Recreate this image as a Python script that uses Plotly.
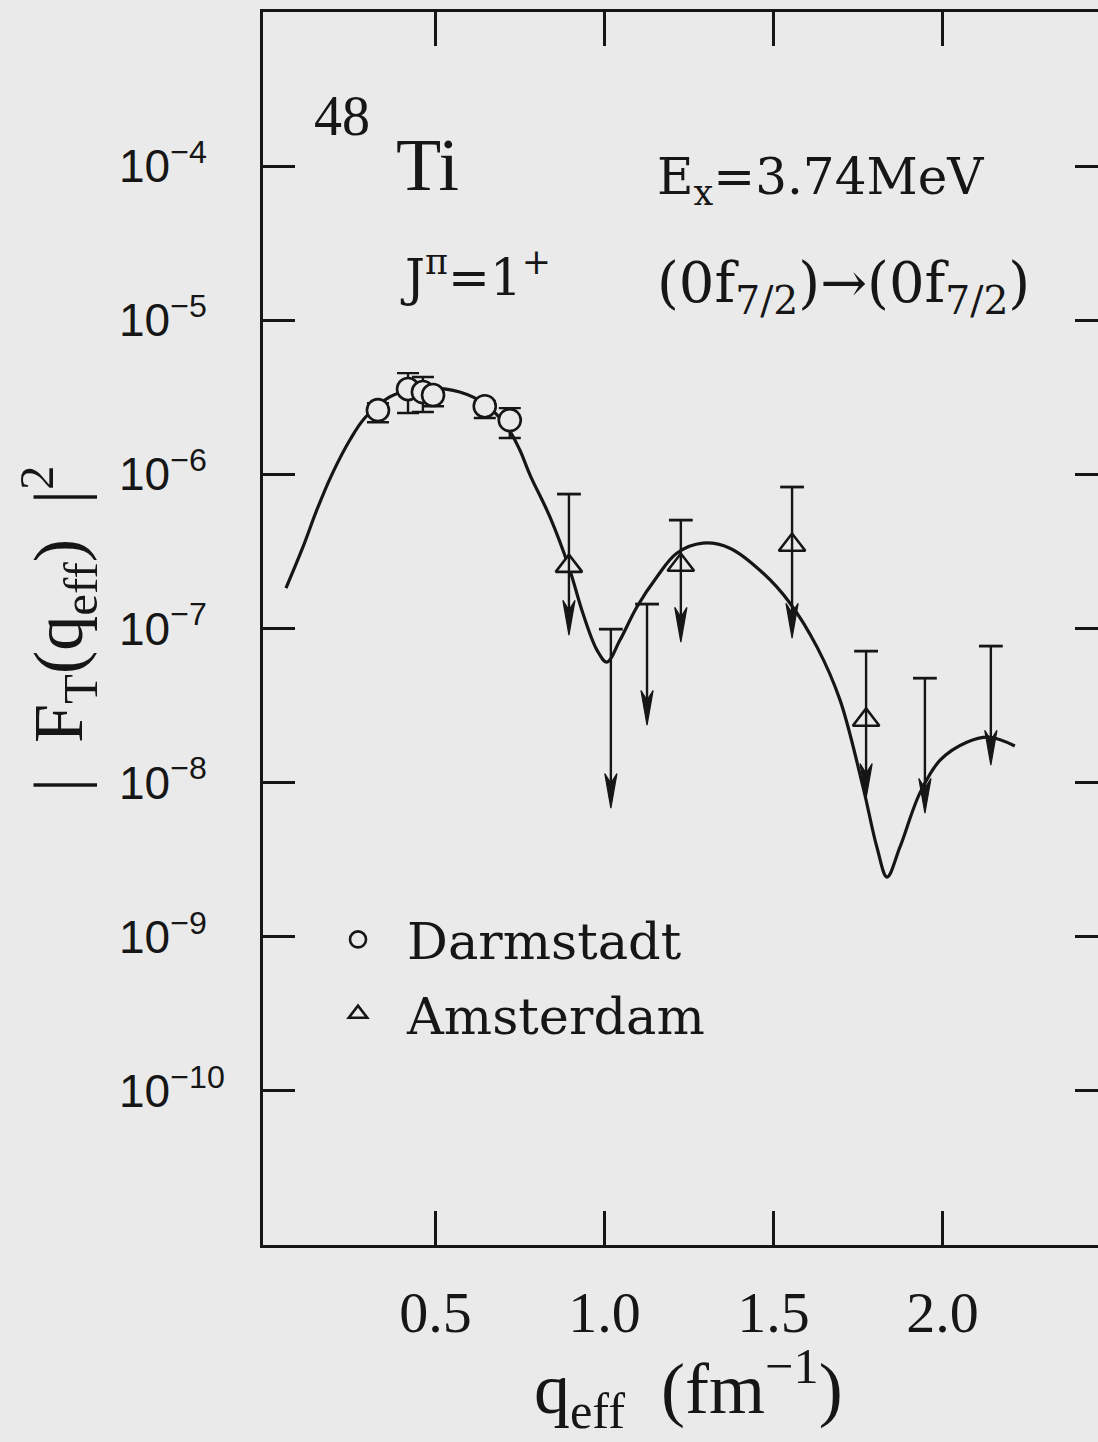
import plotly.graph_objects as go

BG = "#eaeaea"
INK = "#161616"

# Theory curve |F_T(q_eff)|^2 versus q_eff (fm^-1)
theory_q = [0.058, 0.108, 0.149, 0.194, 0.247, 0.291, 0.365, 0.419, 0.484, 0.572,
            0.646, 0.712, 0.749, 0.780, 0.839, 0.895, 0.936, 0.978, 1.007, 1.046,
            1.096, 1.155, 1.214, 1.291, 1.371, 1.469, 1.549, 1.629, 1.697, 1.765,
            1.806, 1.836, 1.874, 1.933, 1.993, 2.072, 2.140, 2.214]
theory_f2 = [1.83e-7, 3.37e-7, 5.86e-7, 1.00e-6, 1.67e-6, 2.32e-6, 3.18e-6, 3.50e-6, 3.63e-6, 3.42e-6,
             2.86e-6, 2.03e-6, 1.45e-6, 9.9e-7, 5.28e-7, 2.50e-7, 1.26e-7, 7.24e-8, 6.05e-8, 8.41e-8,
             1.38e-7, 2.16e-7, 3.08e-7, 3.58e-7, 3.32e-7, 2.29e-7, 1.46e-7, 7.57e-8, 3.43e-8, 9.35e-9,
             3.81e-9, 2.44e-9, 3.81e-9, 8.55e-9, 1.40e-8, 1.83e-8, 1.97e-8, 1.73e-8]

# Darmstadt data with error bars
darm_q = [0.330, 0.419, 0.463, 0.493, 0.646, 0.720]
darm_f2 = [2.61e-6, 3.58e-6, 3.42e-6, 3.27e-6, 2.77e-6, 2.25e-6]
darm_hi = [2.90e-6, 4.54e-6, 4.28e-6, 3.60e-6, 3.00e-6, 2.69e-6]
darm_lo = [2.18e-6, 2.50e-6, 2.54e-6, 2.77e-6, 2.32e-6, 1.72e-6]

# Amsterdam data: measured points carrying upper-limit arrows
ams_q = [0.895, 1.226, 1.555, 1.774]
ams_f2 = [2.54e-7, 2.58e-7, 3.48e-7, 2.55e-8]
ams_cap = [7.45e-7, 5.05e-7, 8.28e-7, 7.13e-8]
ams_tip = [9.06e-8, 8.16e-8, 8.67e-8, 7.92e-9]

# Upper limits without a plotted point
lim_q = [1.019, 1.126, 1.948, 2.143]
lim_cap = [9.9e-8, 1.44e-7, 4.76e-8, 7.69e-8]
lim_tip = [6.82e-9, 2.36e-8, 6.34e-9, 1.30e-8]

x_tick_vals = [0.5, 1.0, 1.5, 2.0]
x_tick_text = ["0.5", "1.0", "1.5", "2.0"]
y_tick_vals = [1e-10, 1e-9, 1e-8, 1e-7, 1e-6, 1e-5, 1e-4]
y_tick_exp = ["10", "9", "8", "7", "6", "5", "4"]

# pad one-digit exponents with a figure space so the "10" bases line up
y_tick_text = ["10<sup>\u2212%s</sup>" % e + ("" if len(e) > 1 else "<sup>\u2007</sup>")
               for e in y_tick_exp]

# arrow head geometry (head length in decades, half width in q units)
HEAD_DEC = 0.225
HEAD_HW = 0.018

arrow_q = ams_q + lim_q
arrow_cap = ams_cap + lim_cap
arrow_tip = ams_tip + lim_tip

stem_x, stem_y, head_x, head_y = [], [], [], []
for q, c, t in zip(arrow_q, arrow_cap, arrow_tip):
    stem_x += [q, q, None]
    stem_y += [c, t * 10 ** (0.6 * HEAD_DEC), None]
    back = t * 10 ** HEAD_DEC
    notch = t * 10 ** (0.72 * HEAD_DEC)
    head_x += [q, q - HEAD_HW, q, q + HEAD_HW, q, None]
    head_y += [t, back, notch, back, t, None]

fig = go.Figure()

fig.add_trace(go.Scatter(
    x=theory_q, y=theory_f2, mode="lines",
    line=dict(color=INK, width=3.2, shape="spline", smoothing=1.0),
    showlegend=False, hoverinfo="skip"))

# stems live on the right-hand twin axis (same scale) so its ticks are drawn
fig.add_trace(go.Scatter(
    x=stem_x, y=stem_y, mode="lines", line=dict(color=INK, width=2.4),
    yaxis="y2", showlegend=False, hoverinfo="skip"))

fig.add_trace(go.Scatter(
    x=head_x, y=head_y, mode="lines", fill="toself", fillcolor=INK,
    line=dict(color=INK, width=1.2), showlegend=False, hoverinfo="skip"))

fig.add_trace(go.Scatter(
    x=arrow_q, y=arrow_cap, mode="markers",
    marker=dict(symbol="line-ew", size=17, line=dict(color=INK, width=2.8)),
    showlegend=False, hoverinfo="skip"))

fig.add_trace(go.Scatter(
    x=darm_q, y=darm_f2, mode="markers", name="Darmstadt", legendgroup="d",
    marker=dict(symbol="circle", size=22, color=BG, line=dict(color=INK, width=2.6)),
    error_y=dict(type="data", symmetric=False,
                 array=[h - v for h, v in zip(darm_hi, darm_f2)],
                 arrayminus=[v - l for l, v in zip(darm_lo, darm_f2)],
                 color=INK, thickness=2.4, width=11)))

fig.add_trace(go.Scatter(
    x=ams_q, y=ams_f2, mode="markers", name="Amsterdam", legendgroup="a",
    marker=dict(symbol="triangle-up", size=23, color=BG, line=dict(color=INK, width=2.6))))

serif = "Liberation Serif"
label_font = "DejaVu Serif"

fig.update_layout(
    width=1098, height=1442,
    margin=dict(l=263, r=0, t=12, b=197),
    paper_bgcolor=BG, plot_bgcolor=BG,
    showlegend=True,
    legend=dict(x=0.0551, y=0.28, xanchor="left", yanchor="top", itemwidth=88,
                bgcolor="rgba(0,0,0,0)", traceorder="grouped", tracegroupgap=5,
                font=dict(family=label_font, size=51, color=INK)),
    xaxis=dict(range=[-0.01, 2.46], tickvals=x_tick_vals, ticktext=x_tick_text,
               ticks="inside", ticklen=34, tickwidth=2.5, tickcolor=INK,
               showline=True, linewidth=3, linecolor=INK, mirror="ticks",
               showgrid=False, zeroline=False, ticklabelstandoff=14,
               tickfont=dict(family=serif, size=58, color=INK)),
    yaxis=dict(type="log", range=[-11, -3], tickvals=y_tick_vals, ticktext=y_tick_text,
               ticks="inside", ticklen=32, tickwidth=2.5, tickcolor=INK,
               showline=True, linewidth=3, linecolor=INK, mirror=False,
               showgrid=False, zeroline=False, ticklabelstandoff=26,
               tickfont=dict(family="Liberation Sans", size=46, color=INK)),
    yaxis2=dict(type="log", range=[-11, -3], overlaying="y", side="right",
                tickvals=y_tick_vals, ticks="inside", ticklen=23, tickwidth=2.5,
                tickcolor=INK, showticklabels=False, showline=False, showgrid=False,
                zeroline=False),
)

ann = [
    dict(text="48", x=0.0946, y=0.9157, font=dict(family=serif, size=56)),
    dict(text="Ti", x=0.1970, y=0.8759, font=dict(family=serif, size=74)),
    dict(text="E<sub>x</sub>=3.74MeV", x=0.4695, y=0.8637, xanchor="left",
         font=dict(family=label_font, size=50)),
    dict(text="J<sup>\u03c0</sup>=1<sup>+</sup>", x=0.1617, y=0.7867, xanchor="left",
         font=dict(family=label_font, size=50)),
    dict(text="(0f<sub>7/2</sub>)\u2192(0f<sub>7/2</sub>)", x=0.4700, y=0.7770,
         xanchor="left", font=dict(family=label_font, size=56)),
    dict(text="q<sub>eff</sub>\u00a0\u00a0(fm<sup>\u22121</sup>)", x=0.51, y=-0.1160,
         yanchor="middle", font=dict(family=serif, size=72)),
    dict(text="|\u00a0\u00a0F<sub>T</sub>(q<sub>eff</sub>)\u00a0\u00a0|<sup>2</sup>",
         x=-0.245, y=0.50, textangle=-90, font=dict(family=serif, size=70)),
]
for a in ann:
    a.setdefault("xanchor", "center")
    a.setdefault("yanchor", "middle")
    a["font"].setdefault("color", INK)
    fig.add_annotation(xref="paper", yref="paper", showarrow=False, **a)

fig.write_html("out.html")
